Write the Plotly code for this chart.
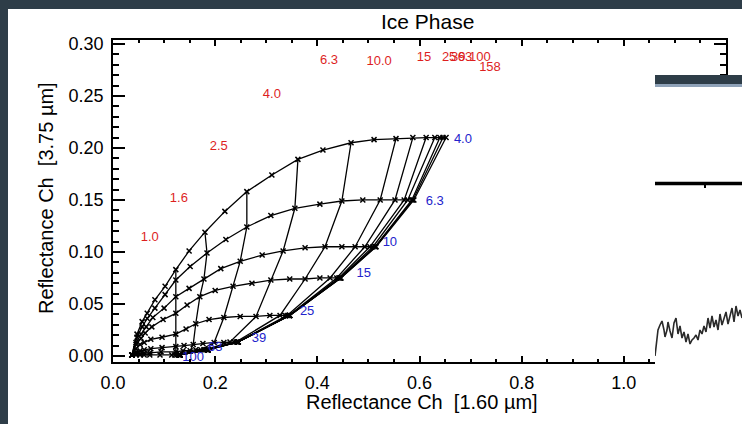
import plotly.graph_objects as go

W, H = 742, 424

# optical thickness grid (marker positions along each constant-radius curve)
taus = [0, 0.25, 0.4, 0.5, 0.63, 0.8, 1.0, 1.26, 1.6, 2.0, 2.5, 3.2, 4.0, 5.0,
        6.3, 8.0, 10, 15.8, 25, 39.8, 63, 100, 158]
re_values = [4.0, 6.3, 10, 15, 25, 39, 63, 100]

# reflectance 1.60 um (x) and 3.75 um (y) for each effective radius
r160_re4 = [0.037, 0.047, 0.057, 0.067, 0.082, 0.102, 0.123, 0.149, 0.180, 0.219, 0.262, 0.311,
            0.362, 0.411, 0.466, 0.511, 0.554, 0.587, 0.613, 0.630, 0.640, 0.646, 0.652]
r375_re4 = [0.001, 0.021, 0.033, 0.041, 0.054, 0.067, 0.083, 0.101, 0.119, 0.139, 0.158, 0.174,
            0.189, 0.198, 0.205, 0.208, 0.209, 0.210, 0.210, 0.210, 0.210, 0.210, 0.210]
r160_re6 = [0.037, 0.047, 0.057, 0.067, 0.082, 0.102, 0.123, 0.151, 0.184, 0.221, 0.262, 0.309,
            0.356, 0.405, 0.448, 0.489, 0.523, 0.552, 0.570, 0.577, 0.585, 0.587, 0.589]
r375_re6 = [0.001, 0.018, 0.028, 0.036, 0.046, 0.059, 0.073, 0.086, 0.099, 0.112, 0.124, 0.135,
            0.142, 0.146, 0.149, 0.150, 0.150, 0.150, 0.150, 0.150, 0.150, 0.150, 0.150]
r160_re10 = [0.037, 0.045, 0.055, 0.065, 0.078, 0.100, 0.123, 0.149, 0.178, 0.211, 0.249, 0.292,
             0.333, 0.376, 0.415, 0.448, 0.474, 0.493, 0.503, 0.509, 0.513, 0.514, 0.515]
r375_re10 = [0.001, 0.013, 0.021, 0.028, 0.037, 0.046, 0.057, 0.065, 0.074, 0.084, 0.091, 0.097,
             0.101, 0.104, 0.105, 0.105, 0.105, 0.105, 0.105, 0.105, 0.105, 0.105, 0.105]
r160_re15 = [0.037, 0.045, 0.055, 0.063, 0.076, 0.098, 0.123, 0.145, 0.170, 0.200, 0.235, 0.272,
             0.309, 0.346, 0.376, 0.405, 0.425, 0.438, 0.442, 0.444, 0.445, 0.446, 0.446]
r375_re15 = [0.001, 0.011, 0.017, 0.022, 0.028, 0.035, 0.041, 0.049, 0.057, 0.063, 0.067, 0.070,
             0.073, 0.074, 0.074, 0.075, 0.075, 0.075, 0.075, 0.075, 0.075, 0.075, 0.075]
r160_re25 = [0.037, 0.045, 0.053, 0.061, 0.074, 0.096, 0.123, 0.143, 0.162, 0.188, 0.217, 0.249,
             0.280, 0.307, 0.327, 0.337, 0.341, 0.344, 0.345, 0.346, 0.346, 0.346, 0.346]
r375_re25 = [0.001, 0.007, 0.011, 0.013, 0.016, 0.018, 0.021, 0.026, 0.031, 0.035, 0.037, 0.038,
             0.038, 0.039, 0.039, 0.039, 0.039, 0.039, 0.039, 0.039, 0.039, 0.039, 0.039]
r160_re39 = [0.037, 0.045, 0.053, 0.061, 0.074, 0.096, 0.123, 0.139, 0.157, 0.176, 0.198, 0.217,
             0.229, 0.237, 0.241, 0.243, 0.245, 0.245, 0.245, 0.245, 0.245, 0.245, 0.245]
r375_re39 = [0.001, 0.004, 0.005, 0.006, 0.007, 0.008, 0.009, 0.010, 0.011, 0.012, 0.013, 0.013,
             0.0135, 0.0135, 0.0135, 0.0135, 0.0135, 0.0135, 0.0135, 0.0135, 0.0135, 0.0135, 0.0135]
r160_re63 = [0.037, 0.045, 0.053, 0.061, 0.072, 0.094, 0.123, 0.137, 0.151, 0.162, 0.172, 0.178,
             0.182, 0.184, 0.186, 0.186, 0.186, 0.186, 0.186, 0.186, 0.186, 0.186, 0.186]
r375_re63 = [0.001, 0.002, 0.0024, 0.003, 0.003, 0.004, 0.004, 0.005, 0.005, 0.006, 0.006, 0.006,
             0.006, 0.006, 0.006, 0.006, 0.006, 0.006, 0.006, 0.006, 0.006, 0.006, 0.006]
r160_re100 = [0.037, 0.045, 0.053, 0.061, 0.072, 0.092, 0.115, 0.121, 0.125, 0.129, 0.131, 0.131,
              0.131, 0.131, 0.131, 0.131, 0.131, 0.131, 0.131, 0.131, 0.131, 0.131, 0.131]
r375_re100 = [0.001, 0.001, 0.001, 0.001, 0.001, 0.001, 0.001, 0.001, 0.001, 0.001, 0.001, 0.001,
              0.001, 0.001, 0.001, 0.001, 0.001, 0.001, 0.001, 0.001, 0.001, 0.001, 0.001]

r160_curves = [r160_re4, r160_re6, r160_re10, r160_re15, r160_re25, r160_re39, r160_re63, r160_re100]
r375_curves = [r375_re4, r375_re6, r375_re10, r375_re15, r375_re25, r375_re39, r375_re63, r375_re100]

# constant optical-thickness lines
tau_lines = [1.0, 1.6, 2.5, 4.0, 6.3, 10, 15.8, 25, 39.8, 63, 100, 158]

# red optical-thickness labels
tau_label_text = ["1.0", "1.6", "2.5", "4.0", "6.3", "10.0", "15", "25", "39", "63", "100", "158"]
tau_label_x = [0.072, 0.129, 0.207, 0.311, 0.423, 0.521, 0.609, 0.658, 0.676, 0.689, 0.718, 0.738]
tau_label_y = [0.1135, 0.151, 0.201, 0.251, 0.284, 0.283, 0.287, 0.287, 0.287, 0.287, 0.287, 0.277]

# blue effective-radius labels
re_label_text = ["4.0", "6.3", "10", "15", "25", "39", "63", "100"]
re_label_x = [0.685, 0.630, 0.542, 0.491, 0.380, 0.286, 0.200, 0.157]
re_label_y = [0.2077, 0.148, 0.109, 0.079, 0.043, 0.017, 0.008, -0.002]

# overlapping screenshot fragment on the right (pixel units of that fragment)
wave_x = [655, 656, 658, 660, 662, 664, 665, 667, 668, 670, 672, 674, 676, 678, 680, 682, 684,
          686, 688, 690, 692, 694, 696, 698, 700, 702, 704, 706, 708, 710, 712, 714, 716, 718,
          720, 722, 724, 726, 728, 730, 732, 734, 736, 738, 740, 742]
wave_y = [356, 345, 330, 325, 321, 330, 337, 330, 322, 331, 338, 323, 318, 334, 326, 338, 332,
          342, 334, 344, 340, 338, 335, 340, 330, 334, 326, 332, 318, 328, 316, 327, 320, 330,
          314, 325, 318, 312, 324, 316, 308, 322, 306, 316, 310, 318]

FONT = "Liberation Sans, Arial, Helvetica, sans-serif"
BORDER = "#2e3d48"

fig = go.Figure()

for xs, ys in zip(r160_curves, r375_curves):
    fig.add_trace(go.Scatter(
        x=xs, y=ys, mode="lines+markers",
        line=dict(color="black", width=1.3),
        marker=dict(symbol="x-thin", size=5, line=dict(color="black", width=1.5)),
        showlegend=False, hoverinfo="skip"))

for t in tau_lines:
    i = taus.index(t)
    fig.add_trace(go.Scatter(
        x=[c[i] for c in r160_curves], y=[c[i] for c in r375_curves], mode="lines",
        line=dict(color="black", width=1.3), showlegend=False, hoverinfo="skip"))

fig.add_trace(go.Scatter(
    x=tau_label_x, y=tau_label_y, mode="text", text=tau_label_text,
    textfont=dict(family=FONT, size=13, color="#dd1f1f"), showlegend=False, hoverinfo="skip"))
fig.add_trace(go.Scatter(
    x=re_label_x, y=re_label_y, mode="text", text=re_label_text,
    textfont=dict(family=FONT, size=13, color="#2323cc"), showlegend=False, hoverinfo="skip"))

# overlay fragment (second subplot drawn on top)
ox = dict(xaxis="x2", yaxis="y2", showlegend=False, hoverinfo="skip")
fig.add_trace(go.Scatter(x=[655, 742, 742, 655], y=[75, 75, 424, 424], fill="toself",
                         fillcolor="white", mode="lines", line=dict(width=0), **ox))
fig.add_trace(go.Scatter(x=[655, 742, 742, 655], y=[75, 75, 84, 84], fill="toself",
                         fillcolor=BORDER, mode="lines", line=dict(width=0), **ox))
fig.add_trace(go.Scatter(x=[655, 742, 742, 655], y=[84, 84, 87, 87], fill="toself",
                         fillcolor="#8fa2b8", mode="lines", line=dict(width=0), **ox))
fig.add_trace(go.Scatter(x=[655, 742], y=[183.5, 183.5], mode="lines",
                         line=dict(color="black", width=3.5), **ox))
fig.add_trace(go.Scatter(x=[705, 705], y=[184, 188], mode="lines",
                         line=dict(color="black", width=2), **ox))
fig.add_trace(go.Scatter(x=wave_x, y=wave_y, mode="lines",
                         line=dict(color="#2a2a2a", width=1.6), **ox))

xd = [113 / W, 726 / W]
yd = [(H - 362) / H, (H - 40) / H]

fig.update_layout(
    width=W, height=H,
    margin=dict(l=0, r=0, t=0, b=0),
    paper_bgcolor="white", plot_bgcolor="white",
    template="none",
    showlegend=False,
    xaxis=dict(domain=xd, range=[0, 1.2], anchor="y", automargin=False,
               showline=True, linecolor="black", linewidth=1.5, mirror="ticks",
               ticks="inside", ticklen=6, tickwidth=1.5, tickcolor="black",
               tick0=0, dtick=0.2, tickformat=".1f", showgrid=False, zeroline=False,
               minor=dict(ticks="inside", ticklen=3, tickwidth=1.5, tickcolor="black",
                          dtick=0.05, showgrid=False),
               tickfont=dict(family=FONT, size=18, color="black"), ticklabelstandoff=4),
    yaxis=dict(domain=yd, range=[-0.0058, 0.3038], anchor="x", automargin=False,
               showline=True, linecolor="black", linewidth=1.5, mirror="ticks",
               ticks="inside", ticklen=12, tickwidth=1.5, tickcolor="black",
               tick0=0, dtick=0.05, tickformat=".2f", showgrid=False, zeroline=False,
               minor=dict(ticks="inside", ticklen=6, tickwidth=1.5, tickcolor="black",
                          dtick=0.01, showgrid=False),
               tickfont=dict(family=FONT, size=18, color="black"), ticklabelstandoff=4),
    xaxis2=dict(domain=[655 / W, 1], range=[655, 742], anchor="y2", visible=False,
                automargin=False, fixedrange=True),
    yaxis2=dict(domain=[0, (H - 75) / H], range=[424, 75], anchor="x2", visible=False,
                automargin=False, fixedrange=True),
    shapes=[
        dict(type="rect", xref="paper", yref="paper", x0=0, x1=8 / W, y0=0, y1=1,
             fillcolor=BORDER, line=dict(width=0), layer="above"),
        dict(type="rect", xref="paper", yref="paper", x0=0, x1=1, y0=(H - 9) / H, y1=1,
             fillcolor=BORDER, line=dict(width=0), layer="above"),
    ],
    annotations=[
        dict(text="Ice Phase", xref="paper", yref="paper", x=428 / W, y=(H - 21) / H,
             showarrow=False, font=dict(family=FONT, size=21, color="black"),
             xanchor="center", yanchor="middle"),
        dict(text="Reflectance Ch  [1.60 µm]", xref="paper", yref="paper",
             x=422 / W, y=(H - 402) / H, showarrow=False,
             font=dict(family=FONT, size=20, color="black"), xanchor="center", yanchor="middle"),
        dict(text="Reflectance Ch  [3.75 µm]", xref="paper", yref="paper",
             x=46 / W, y=(H - 198) / H, showarrow=False, textangle=-90,
             font=dict(family=FONT, size=20, color="black"), xanchor="center", yanchor="middle"),
    ],
)

fig.write_html("out.html")
